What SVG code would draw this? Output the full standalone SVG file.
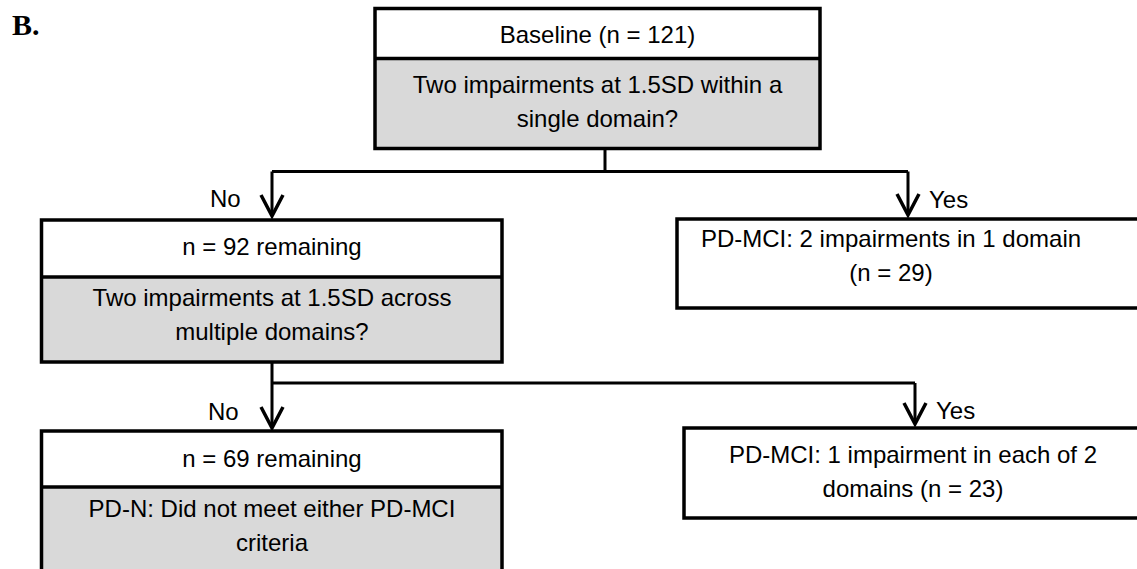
<svg xmlns="http://www.w3.org/2000/svg" width="1137" height="569" viewBox="0 0 1137 569">
  <style>
    .box { fill: #ffffff; stroke: #000000; stroke-width: 3.5; }
    .q { fill: #d9d9d9; }
    .div { stroke: #000000; stroke-width: 3.5; }
    .t { font-family: "Liberation Sans", Arial, sans-serif; font-size: 24px; fill: #000000; }
    .c { text-anchor: middle; }
    .wire { fill: none; stroke: #000000; stroke-width: 3; }
    .head { fill: none; stroke: #000000; stroke-width: 3.5; stroke-linejoin: miter; }
    .panel { font-family: "Liberation Serif", "Times New Roman", serif; font-weight: bold; font-size: 30px; fill: #000000; }
  </style>

  <text class="panel" x="12" y="35">B.</text>

  <!-- Connectors -->
  <g id="connectors">
    <!-- first decision -->
    <path class="wire" d="M605,148.5 V171.5 M272,171.5 H908 M272,171.5 V216 M908,171.5 V215"/>
    <polyline class="head" points="261,195 272,216 283,195"/>
    <polyline class="head" points="897,194 908,215 919,194"/>
    <!-- second decision -->
    <path class="wire" d="M272,362 V383 H915 M272,383 V428 M915,383 V424"/>
    <polyline class="head" points="261,407 272,428 283,407"/>
    <polyline class="head" points="904,403 915,424 926,403"/>
    <text class="t" x="210" y="207">No</text>
    <text class="t" x="929" y="208">Yes</text>
    <text class="t" x="208" y="420">No</text>
    <text class="t" x="936" y="419">Yes</text>
  </g>

  <!-- Baseline node -->
  <g id="baseline">
    <rect class="q" x="375" y="58.5" width="445" height="90"/>
    <rect class="box" x="375" y="8.5" width="445" height="140" style="fill:none"/>
    <line class="div" x1="375" y1="58.5" x2="820" y2="58.5"/>
    <text class="t c" x="597.5" y="43">Baseline (n = 121)</text>
    <text class="t c" x="597.5" y="93">Two impairments at 1.5SD within a</text>
    <text class="t c" x="597.5" y="127">single domain?</text>
  </g>

  <!-- Remaining after first decision -->
  <g id="remaining92">
    <rect class="q" x="41.5" y="277" width="460.5" height="85"/>
    <rect class="box" x="41.5" y="220" width="460.5" height="142" style="fill:none"/>
    <line class="div" x1="41.5" y1="277" x2="502" y2="277"/>
    <text class="t c" x="272" y="255">n = 92 remaining</text>
    <text class="t c" x="272" y="306">Two impairments at 1.5SD across</text>
    <text class="t c" x="272" y="340">multiple domains?</text>
  </g>

  <!-- PD-MCI single domain -->
  <g id="mci-single">
    <rect class="box" x="677" y="219" width="480" height="89"/>
    <text class="t c" x="891" y="247">PD-MCI: 2 impairments in 1 domain</text>
    <text class="t c" x="891" y="281">(n = 29)</text>
  </g>

  <!-- Remaining after second decision -->
  <g id="remaining69">
    <rect class="q" x="41.5" y="487" width="460.5" height="104"/>
    <rect class="box" x="41.5" y="431" width="460.5" height="160" style="fill:none"/>
    <line class="div" x1="41.5" y1="487" x2="502" y2="487"/>
    <text class="t c" x="272" y="467">n = 69 remaining</text>
    <text class="t c" x="272" y="517">PD-N: Did not meet either PD-MCI</text>
    <text class="t c" x="272" y="551">criteria</text>
  </g>

  <!-- PD-MCI across domains -->
  <g id="mci-multiple">
    <rect class="box" x="684" y="428" width="480" height="90"/>
    <text class="t c" x="913" y="463">PD-MCI: 1 impairment in each of 2</text>
    <text class="t c" x="913" y="497">domains (n = 23)</text>
  </g>
</svg>
